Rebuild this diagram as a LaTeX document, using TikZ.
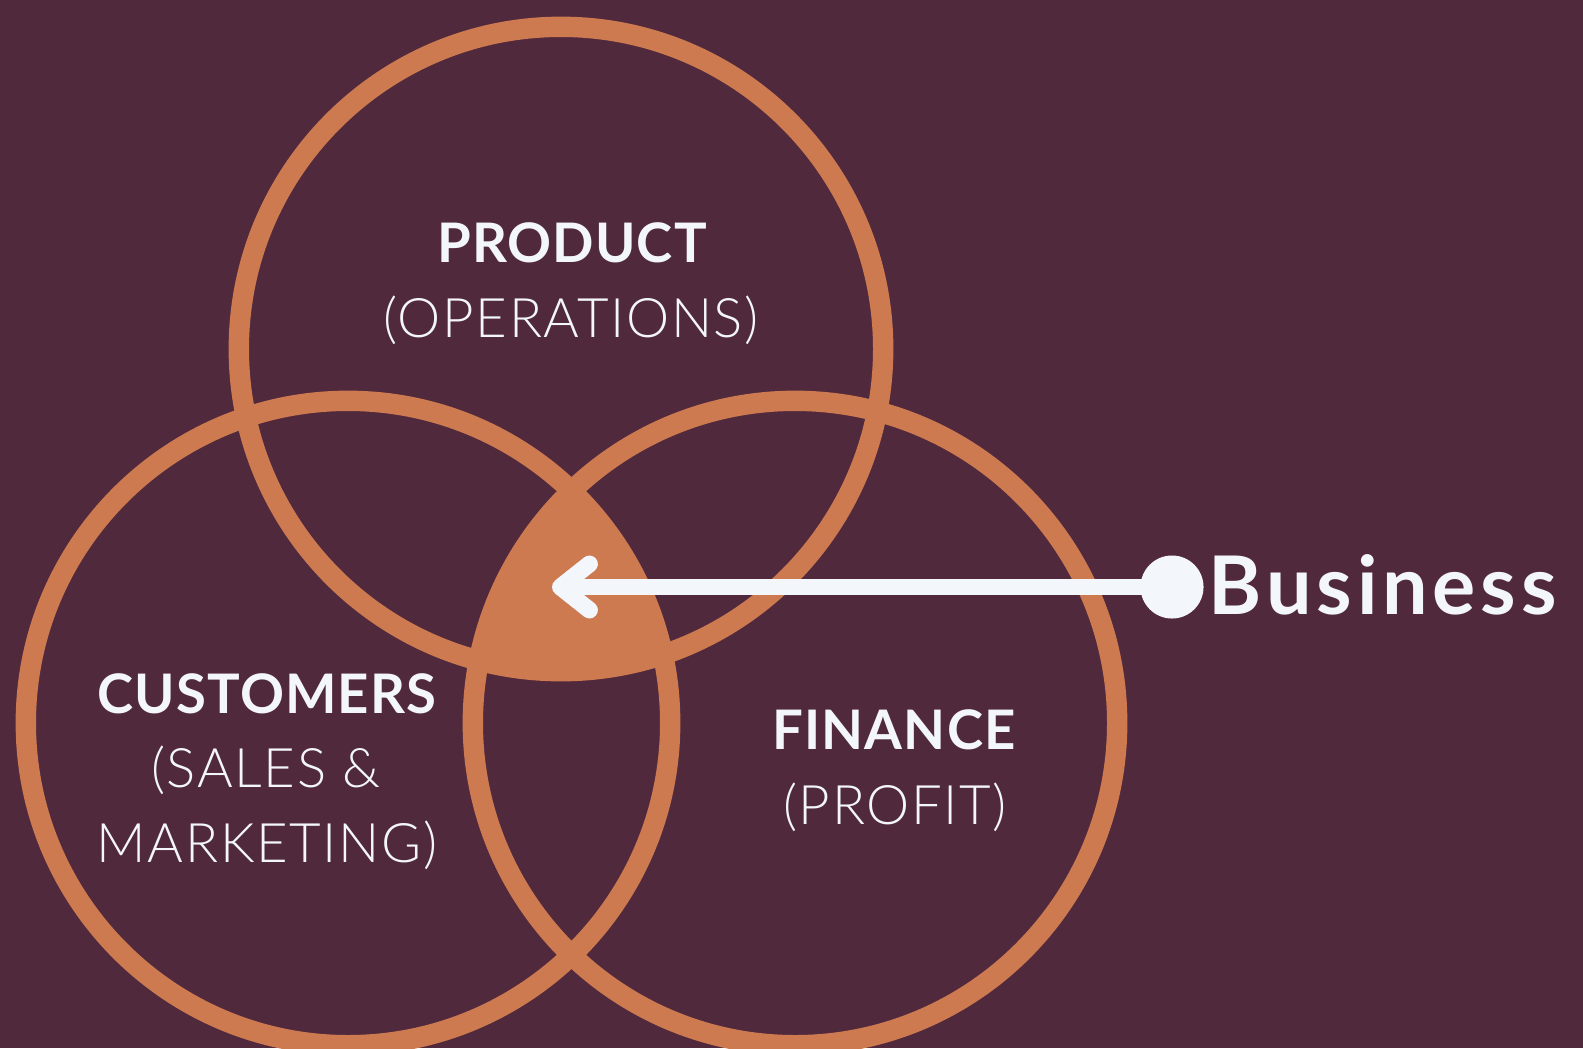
\documentclass[tikz,border=0pt]{standalone}
\usepackage{fontspec}
\setmainfont{Lato}
\newfontfamily\headfont{Lato}[LetterSpace=2]
\newfontfamily\bizfont{Lato}[LetterSpace=6]
\newfontfamily\lightfont{Lato Light}[LetterSpace=3]
\usetikzlibrary{arrows.meta}
\definecolor{plum}{RGB}{81,41,60}
\definecolor{copper}{RGB}{205,122,80}
\definecolor{snow}{RGB}{243,246,250}
\tikzset{
  ring/.style={draw=copper, line width=5.8pt},
  head/.style={text=snow, inner sep=0pt, font=\headfont\bfseries\fontsize{15.5}{19}\selectfont},
  sub/.style={text=snow, inner sep=0pt, font=\lightfont\fontsize{15.5}{19}\selectfont},
}
\begin{document}
\begin{tikzpicture}[x=0.01cm, y=-0.01cm]
      \useasboundingbox (0,0) rectangle (1583,1048);
      \fill[plum] (0,0) rectangle (1583,1048);        % background
      %
      \begin{scope}                                   % common core
        \clip (561,349) circle[radius=3.22cm];
        \clip (348,723) circle[radius=3.22cm];
        \fill[copper] (795,723) circle[radius=3.22cm];
      \end{scope}
      %
      \draw[ring] (561,349) circle[radius=3.22cm];    % product
      \draw[ring] (348,723) circle[radius=3.22cm];    % customers
      \draw[ring] (795,723) circle[radius=3.22cm];    % finance
      %
      \node[head, anchor=base] (product) at (572,262) {PRODUCT};
      \node[sub, anchor=base] (operations) at (571,337) {(OPERATIONS)};
      %%
      \node[head, anchor=base] (customers) at (267,713) {CUSTOMERS};
      \node[sub, anchor=base] (sales) at (266,787) {(SALES \&};
      \node[sub, anchor=base] (marketing) at (267,862) {MARKETING)};
      %%
      \node[head, anchor=base] (finance) at (894,749) {FINANCE};
      \node[sub, anchor=base] (profit) at (895,824) {(PROFIT)};
      %
      \node[circle, fill=snow, inner sep=0pt, minimum size=0.63cm] (dot) at (1172,587) {};
      \coordinate (core) at (552,587);
      \draw[snow, line width=4.8pt, -{Straight Barb[round, length=8.25pt, width=13.1pt]}] (dot.center) -- (core);
      \node[text=snow, inner sep=0pt, anchor=base west, font=\bizfont\bfseries\fontsize{23}{27}\selectfont] (business) at (1208,614) {Business};
      %
    \end{tikzpicture}
\end{document}
